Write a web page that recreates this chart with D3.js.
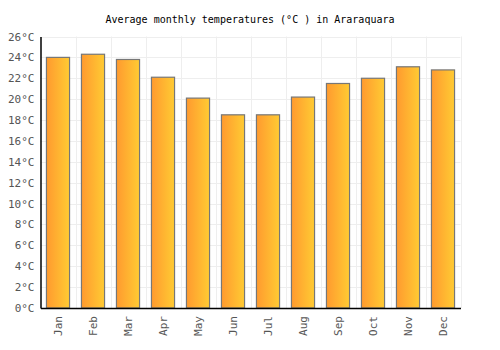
<!DOCTYPE html>
<html><head><meta charset="utf-8">
<script src="https://cdn.jsdelivr.net/npm/d3@7"></script>
<style>body{margin:0;background:#fff}svg{display:block}</style>
</head><body>
<svg id="c" width="500" height="350"></svg>
<script>
const months = ["Jan","Feb","Mar","Apr","May","Jun","Jul","Aug","Sep","Oct","Nov","Dec"];
const temps = [24.0,24.3,23.8,22.1,20.1,18.5,18.5,20.2,21.5,22.0,23.1,22.8];
const yTicks = [0,2,4,6,8,10,12,14,16,18,20,22,24,26];
const title = "Average monthly temperatures (°C ) in Araraquara";

const svg = d3.select("#c");
const L = 40.5, R = 460.5, T = 36.5, B = 308;
const x = d3.scaleBand().domain(months).range([L, R]).paddingInner(0.34).paddingOuter(0.17);
const xb = d3.scaleBand().domain(months).range([L, R]);
const y = d3.scaleLinear().domain([0, 26]).range([B, T]);
const font = "'DejaVu Sans Mono', monospace";

const defs = svg.append("defs");
const g = defs.append("linearGradient").attr("id","gr").attr("x1","0").attr("x2","1").attr("y1","0").attr("y2","0");
g.append("stop").attr("offset","0").attr("stop-color","#ff9a2f");
g.append("stop").attr("offset","1").attr("stop-color","#ffcb33");

// grid
svg.append("g").selectAll("line").data(yTicks).join("line")
  .attr("x1", L).attr("x2", R).attr("y1", d => Math.round(y(d))+0.5).attr("y2", d => Math.round(y(d))+0.5)
  .attr("stroke", "#eeeeee").attr("stroke-width", 1);
svg.append("g").selectAll("line").data(months).join("line")
  .attr("x1", d => Math.round(xb(d) + xb.bandwidth())+0.5).attr("x2", d => Math.round(xb(d) + xb.bandwidth())+0.5)
  .attr("y1", T).attr("y2", B)
  .attr("stroke", "#eeeeee").attr("stroke-width", 1);

// bars
svg.append("g").selectAll("rect").data(months).join("rect")
  .attr("x", d => x(d)).attr("width", x.bandwidth())
  .attr("y", (d,i) => y(temps[i])).attr("height", (d,i) => B - y(temps[i]))
  .attr("fill", "url(#gr)").attr("stroke", "#777").attr("stroke-width", 1.2);

// axes
const yAxis = d3.axisLeft(y).tickValues(yTicks).tickSize(0).tickPadding(6).tickFormat(d => d + "°C");
const ya = svg.append("g").attr("transform", `translate(${L},0)`).call(yAxis);
ya.select(".domain").attr("stroke", "#000").attr("stroke-width", 1.5);
ya.selectAll("text").attr("font-family", font).attr("font-size", 11).attr("fill", "#555");

const xAxis = d3.axisBottom(xb).tickSize(0).tickPadding(8);
const xa = svg.append("g").attr("transform", `translate(0,${B})`).call(xAxis);
xa.select(".domain").attr("stroke", "#000").attr("stroke-width", 1.5);
xa.selectAll("text").attr("font-family", font).attr("font-size", 11).attr("fill", "#555")
  .attr("transform", "rotate(-90)").attr("text-anchor", "end").attr("dy", "0.35em").attr("x", -8).attr("y", 0);

svg.append("text").attr("x", 250).attr("y", 23).attr("text-anchor", "middle")
  .attr("font-family", font).attr("font-size", 10).attr("fill", "#000").text(title);
</script>
</body></html>
